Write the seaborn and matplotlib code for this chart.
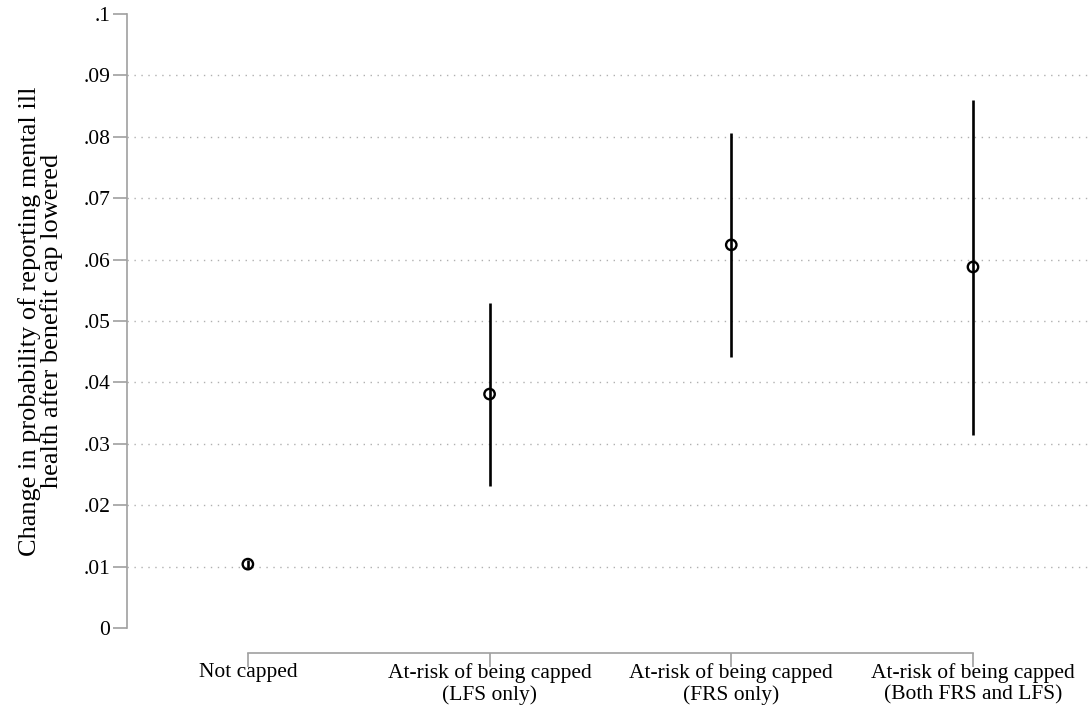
import matplotlib
matplotlib.use("Agg")
import matplotlib.pyplot as plt
from matplotlib.ticker import FixedLocator
import seaborn as sns
import pandas as pd

categories = [
    "Not capped",
    "At-risk of being capped\n(LFS only)",
    "At-risk of being capped\n(FRS only)",
    "At-risk of being capped\n(Both FRS and LFS)",
]
estimates = [0.0104, 0.0381, 0.0624, 0.0588]
ci_low = [0.0098, 0.0231, 0.0442, 0.0314]
ci_high = [0.0110, 0.0530, 0.0806, 0.0860]
yticks = [0, .01, .02, .03, .04, .05, .06, .07, .08, .09, .1]
ytick_labels = ["0", ".01", ".02", ".03", ".04", ".05", ".06", ".07", ".08", ".09", ".1"]
ylabel = "Change in probability of reporting mental ill\nhealth after benefit cap lowered"

df = pd.DataFrame({"group": categories, "est": estimates, "lo": ci_low, "hi": ci_high})

sns.set_theme(style="ticks")
plt.rcParams["font.family"] = ["Liberation Serif", "DejaVu Serif"]
plt.rcParams["text.color"] = "black"
plt.rcParams["axes.labelcolor"] = "black"

fig = plt.figure(figsize=(10.89, 7.09), dpi=100)
ax = fig.add_axes([127 / 1089, 1 - 628 / 709, 1 - 127 / 1089, (628 - 14) / 709])

pos = list(range(len(df)))
sns.scatterplot(data=df, x="group", y="est", ax=ax, marker="o", s=56,
                facecolor="none", edgecolor="black", linewidth=1.7, zorder=4, legend=False)
ax.vlines(pos, df["lo"], df["hi"], color="black", linewidth=1.9, zorder=5)

ax.set_xlim(-0.5, 3.48)
ax.set_ylim(0, 0.1)
ax.set_yticks(yticks)
ax.set_yticklabels(ytick_labels)
ax.set_xticks(pos)
ax.set_xticklabels(categories)
ax.set_xlabel("")
ax.set_ylabel(ylabel, fontsize=19, labelpad=15, linespacing=0.92)

ax.yaxis.remove_overlapping_locs = False
ax.yaxis.set_minor_locator(FixedLocator(yticks[1:-1]))
ax.grid(False)
ax.yaxis.grid(True, which="minor", linestyle=(0, (1, 4)), color="#b0b0b0", linewidth=1.0)
ax.tick_params(which="minor", left=False, bottom=False, length=0)
ax.tick_params(axis="both", which="major", left=True, bottom=True, labelsize=15.5,
               length=10, width=1.2, color="#a0a0a0", labelcolor="black", direction="out")
ax.tick_params(axis="x", pad=-3)
ax.tick_params(axis="y", pad=2)
for lab in ax.get_xticklabels():
    lab.set_linespacing(1.0)

for s in ["top", "right"]:
    ax.spines[s].set_visible(False)
ax.spines["left"].set_color("#a0a0a0")
ax.spines["left"].set_linewidth(1.2)
ax.spines["left"].set_bounds(0, 0.1)
ax.spines["bottom"].set_color("#a0a0a0")
ax.spines["bottom"].set_linewidth(1.2)
ax.spines["bottom"].set_position(("outward", 18))
ax.spines["bottom"].set_bounds(0, 3)

fig.savefig("out.png", dpi=100)
